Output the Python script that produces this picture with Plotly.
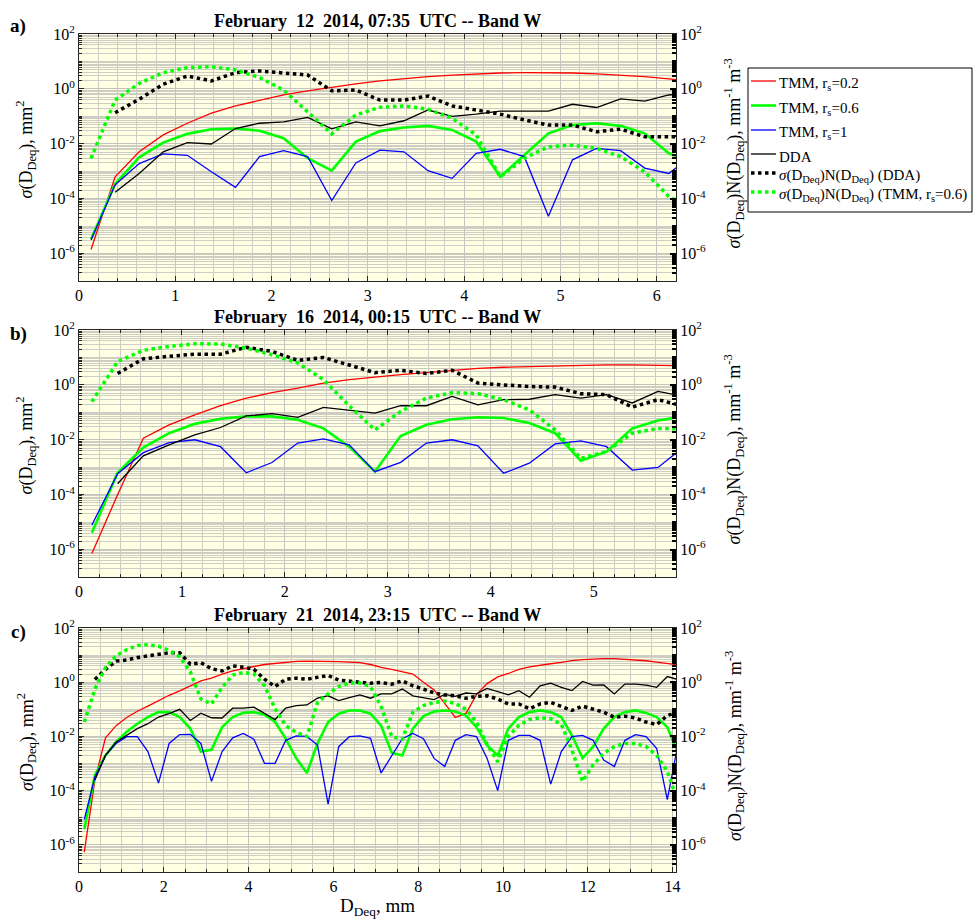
import plotly.graph_objects as go

FONT = "Liberation Serif, Times New Roman, Times, serif"

# ---------------- bin centres, mm ----------------
d_a = [0.125, 0.375, 0.625, 0.875, 1.125, 1.375, 1.625, 1.875, 2.125, 2.375, 2.625, 2.875, 3.125,
       3.375, 3.625, 3.875, 4.125, 4.375, 4.625, 4.875, 5.125, 5.375, 5.625, 5.875, 6.125, 6.375]
d_b = [0.125, 0.375, 0.625, 0.875, 1.125, 1.375, 1.625, 1.875, 2.125, 2.375, 2.625, 2.875,
       3.125, 3.375, 3.625, 3.875, 4.125, 4.375, 4.625, 4.875, 5.125, 5.375, 5.625, 5.875]
d_c = [0.125, 0.375, 0.625, 0.875, 1.125, 1.375, 1.625, 1.875, 2.125, 2.375, 2.625, 2.875, 3.125,
       3.375, 3.625, 3.875, 4.125, 4.375, 4.625, 4.875, 5.125, 5.375, 5.625, 5.875, 6.125, 6.375,
       6.625, 6.875, 7.125, 7.375, 7.625, 7.875, 8.125, 8.375, 8.625, 8.875, 9.125, 9.375, 9.625,
       9.875, 10.125, 10.375, 10.625, 10.875, 11.125, 11.375, 11.625, 11.875, 12.125, 12.375,
       12.625, 12.875, 13.125, 13.375, 13.625, 13.875, 14.125]

# ---------------- a) February 12 2014, 07:35 UTC ----------------
tmm02_a = [1.4e-6, 6.3e-4, 5.1e-3, 2.1e-2, 5.6e-2, 0.13, 0.24, 0.39, 0.60, 0.85, 1.15, 1.51, 1.95,
           2.4, 2.8, 3.2, 3.5, 3.8, 3.9, 3.9, 3.8, 3.5, 3.2, 2.8, 2.3, 1.9]
tmm06_a = [3.3e-6, 3.4e-4, 3.2e-3, 1.1e-2, 2.3e-2, 3.4e-2, 3.6e-2, 3.0e-2, 1.6e-2, 3.0e-3, 1.05e-3,
           1.2e-2, 2.9e-2, 3.9e-2, 4.5e-2, 3.2e-2, 1.2e-2, 6.3e-4, 3.9e-3, 2.4e-2, 4.8e-2, 5.6e-2,
           4.5e-2, 2.4e-2, 4.5e-3, 2.0e-3]
tmm1_a = [3.1e-6, 3.2e-4, 1.9e-3, 4.3e-3, 3.8e-3, 9.5e-4, 2.6e-4, 3.4e-3, 5.6e-3, 3.4e-3, 8.5e-5,
          2.0e-3, 5.9e-3, 5.1e-3, 1.05e-3, 5.5e-4, 4.5e-3, 6.3e-3, 3.4e-3, 2.3e-5, 2.6e-3, 6.8e-3,
          5.6e-3, 1.3e-3, 8.3e-4, 4.0e-3]
dda_a = [1.7e-4, 8.3e-4, 5.1e-3, 1.1e-2, 9.8e-3, 3.6e-2, 5.6e-2, 6.3e-2, 9.1e-2, 3.5e-2, 6.3e-2,
         4.5e-2, 6.9e-2, 0.17, 0.10, 0.12, 0.155, 0.155, 0.155, 0.275, 0.21, 0.43, 0.36, 0.60, 0.71]
sn_dda_a = [0.135, 0.42, 1.48, 2.95, 1.95, 3.9, 4.5, 3.7, 3.2, 0.85, 0.91, 0.39, 0.39, 0.55, 0.24,
            0.17, 0.12, 0.074, 0.048, 0.048, 0.0275, 0.034, 0.018, 0.018, 0.0186]
sn_tmm_a = [2.95e-3, 0.39, 1.58, 3.9, 5.9, 6.5, 4.9, 2.6, 0.91, 0.148, 0.023, 0.112, 0.214, 0.24,
            0.182, 0.085, 0.021, 6.3e-4, 2.95e-3, 7.8e-3, 8.9e-3, 6.8e-3, 3.4e-3, 9.5e-4, 1.2e-4,
            4.0e-5]

# ---------------- b) February 16 2014, 00:15 UTC ----------------
tmm02_b = [7.2e-7, 1.0e-4, 1.15e-2, 3.5e-2, 8.1e-2, 0.174, 0.33, 0.52, 0.76, 1.17, 1.55, 1.95,
           2.35, 2.8, 3.4, 4.0, 4.4, 4.7, 5.0, 5.2, 5.4, 5.4, 5.2, 5.0]
tmm06_b = [4.1e-6, 6.3e-4, 5.2e-3, 1.74e-2, 3.8e-2, 5.8e-2, 7.1e-2, 7.1e-2, 5.4e-2, 2.6e-2, 5.6e-3,
           6.9e-4, 1.38e-2, 3.5e-2, 5.6e-2, 6.6e-2, 6.2e-2, 4.1e-2, 1.74e-2, 1.74e-3, 3.7e-3,
           2.6e-2, 5.0e-2, 7.1e-2]
tmm1_b = [7.8e-6, 5.8e-4, 3.4e-3, 7.9e-3, 1.0e-2, 5.6e-3, 6.3e-4, 1.48e-3, 7.6e-3, 1.07e-2, 6.5e-3,
          6.9e-4, 1.5e-3, 7.6e-3, 1.0e-2, 6.0e-3, 6.0e-4, 1.4e-3, 7.1e-3, 9.1e-3, 5.6e-3, 7.9e-4,
          9.8e-4, 5.5e-3]
dda_b = [2.5e-4, 2.6e-3, 6.5e-3, 1.5e-2, 2.8e-2, 7.4e-2, 8.9e-2, 6.6e-2, 0.151, 0.117, 0.093,
         0.174, 0.174, 0.38, 0.186, 0.29, 0.30, 0.44, 0.33, 0.44, 0.22, 0.575, 0.38]
sn_dda_b = [2.6, 8.9, 11.0, 13.2, 13.2, 23.4, 16.6, 7.8, 10.0, 5.4, 2.8, 3.4, 2.6, 3.4, 1.17, 1.0,
            0.87, 0.83, 0.48, 0.44, 0.155, 0.29, 0.166]
sn_tmm_b = [0.245, 7.1, 18.2, 25.1, 31.6, 30.9, 21.9, 12.6, 6.3, 1.55, 0.174, 0.023, 0.107, 0.33,
            0.52, 0.48, 0.29, 0.123, 0.023, 2.1e-3, 3.7e-3, 1.74e-2, 2.6e-2, 2.45e-2]

# ---------------- c) February 21 2014, 23:15 UTC ----------------
tmm02_c = [5.4e-7, 2.5e-4, 8.9e-3, 2.5e-2, 5.0e-2, 8.5e-2, 0.132, 0.21, 0.33, 0.48, 0.71, 1.12,
           1.41, 2.0, 2.6, 3.2, 3.8, 4.5, 5.0, 5.5, 5.9, 6.0, 6.0, 5.9, 5.75, 5.5, 5.25, 4.5, 3.5,
           3.0, 2.5, 2.0, 1.0, 0.52, 0.166, 0.050, 0.071, 0.35, 0.89, 1.58, 2.1, 2.95, 3.7, 4.3,
           4.8, 5.4, 6.3, 6.8, 7.2, 7.4, 7.4, 7.1, 6.6, 6.2, 5.5, 5.0, 4.4]
tmm06_c = [3.8e-6, 3.8e-4, 2.0e-3, 6.3e-3, 1.48e-2, 2.95e-2, 5.2e-2, 7.9e-2, 7.9e-2, 5.2e-2,
           1.95e-2, 2.75e-3, 3.2e-3, 2.2e-2, 5.2e-2, 7.4e-2, 7.9e-2, 6.3e-2, 3.4e-2, 8.3e-3,
           1.55e-3, 4.5e-4, 5.5e-3, 3.4e-2, 6.9e-2, 9.1e-2, 9.1e-2, 6.9e-2, 2.5e-2, 2.5e-3,
           2.0e-3, 1.95e-2, 5.6e-2, 8.3e-2, 9.1e-2, 8.3e-2, 5.9e-2, 2.2e-2, 4.8e-3, 2.0e-3,
           1.95e-2, 5.2e-2, 7.9e-2, 9.1e-2, 7.9e-2, 5.2e-2, 1.1e-2, 1.6e-3, 4.2e-3, 1.95e-2,
           5.2e-2, 7.9e-2, 9.1e-2, 7.4e-2, 5.2e-2, 2.2e-2, 2.5e-3]
tmm1_c = [8.7e-6, 3.2e-4, 2.0e-3, 5.5e-3, 9.8e-3, 9.8e-3, 2.75e-3, 1.9e-4, 5.5e-3, 1.17e-2,
          1.2e-2, 5.5e-3, 2.2e-4, 2.75e-3, 8.9e-3, 1.29e-2, 7.9e-3, 1.02e-3, 1.02e-3, 7.2e-3,
          1.05e-2, 1.0e-2, 4.8e-3, 3.2e-5, 4.2e-3, 9.8e-3, 1.05e-2, 8.5e-3, 4.5e-4, 2.0e-3,
          8.3e-3, 1.29e-2, 8.3e-3, 1.55e-3, 7.8e-4, 7.2e-3, 1.17e-2, 9.8e-3, 1.55e-3, 1.0e-4,
          7.2e-3, 1.1e-2, 1.1e-2, 7.2e-3, 1.74e-4, 2.75e-3, 9.8e-3, 1.1e-2, 7.2e-3, 1.35e-3,
          7.8e-4, 7.2e-3, 1.17e-2, 9.8e-3, 3.6e-3, 4.7e-5, 5.0e-3]
dda_c = [2.5e-4, 2.0e-3, 6.3e-3, 1.1e-2, 1.95e-2, 2.95e-2, 5.2e-2, 6.9e-2, 0.1, 3.9e-2, 7.2e-2,
         4.9e-2, 4.8e-2, 0.11, 0.11, 0.12, 6.9e-2, 4.2e-2, 0.112, 0.138, 0.145, 0.257, 0.316, 0.21,
         0.27, 0.34, 0.257, 0.37, 0.37, 0.56, 0.316, 0.27, 0.23, 0.355, 0.30, 0.40, 0.37, 0.59,
         0.45, 0.34, 0.49, 0.28, 0.74, 0.93, 0.65, 0.49, 1.07, 0.78, 0.79, 0.37, 0.85, 0.85, 0.78,
         0.65, 1.62, 1.26]
sn_dda_c = [1.26, 3.0, 6.0, 6.6, 8.1, 9.1, 10.7, 12.3, 12.3, 4.6, 5.25, 3.16, 2.6, 4.0, 3.6, 3.0,
            1.29, 0.69, 1.29, 1.41, 1.29, 1.48, 1.78, 1.2, 1.12, 1.05, 0.91, 0.98, 0.85, 1.12,
            0.74, 0.56, 0.40, 0.34, 0.316, 0.257, 0.30, 0.316, 0.24, 0.158, 0.158, 0.105, 0.158,
            0.18, 0.132, 0.091, 0.132, 0.098, 0.078, 0.051, 0.056, 0.048, 0.034, 0.0275, 0.059,
            0.079]
sn_tmm_c = [0.034, 0.56, 3.5, 9.5, 15.8, 22.4, 24.0, 21.4, 15.1, 8.7, 2.4, 0.24, 0.158, 0.65, 1.82,
            2.3, 2.0, 0.74, 0.105, 0.025, 0.0141, 0.010, 0.18, 0.37, 0.69, 0.93, 0.93, 0.69, 0.126,
            0.010, 0.0079, 0.079, 0.138, 0.18, 0.20, 0.166, 0.10, 0.034, 0.005, 0.00117, 0.010,
            0.0257, 0.042, 0.049, 0.045, 0.028, 0.0032, 2.2e-4, 8.9e-4, 2.4e-3, 4.2e-3, 5.5e-3,
            5.5e-3, 4.2e-3, 2.0e-3, 5.1e-4, 4.0e-5]

titles = ["February\u00a0\u00a012\u00a0\u00a02014, 07:35\u00a0\u00a0UTC -- Band W",
          "February\u00a0\u00a016\u00a0\u00a02014, 00:15\u00a0\u00a0UTC -- Band W",
          "February\u00a0\u00a021\u00a0\u00a02014, 23:15\u00a0\u00a0UTC -- Band W"]
panel_tags = ["a)", "b)", "c)"]
x_max = [6.2, 5.8, 14.08]
x_major = [1, 1, 2]
x_minor = [0.2, 0.2, 0.5]

# labelled decades; the odd decades and the 2..9 subdivisions go on the minor grid
label_exp = [-6, -4, -2, 0, 2]
y_tickvals = [10.0 ** e for e in label_exp]
y_ticktext = ["10<sup>%d</sup>" % e for e in label_exp]
y_minor = [m * 10.0 ** e for e in range(-7, 2) for m in range(1, 10)
           if not (m == 1 and e in label_exp)]

W, H = 973, 924
X0, X1 = 79, 676
panel_px = [(34, 281), (330, 577), (628, 872)]

BG = "#FFFFE4"
GRID_MAJ = "#C4C4BC"
GRID_MIN = "#CDCDC4"
FRAME = "#262626"
TICK_FONT = 16

names = ["TMM, r<sub>s</sub>=0.2", "TMM, r<sub>s</sub>=0.6", "TMM, r<sub>s</sub>=1", "DDA",
         "<i>σ</i>(D<sub>Deq</sub>)N(D<sub>Deq</sub>) (DDA)",
         "<i>σ</i>(D<sub>Deq</sub>)N(D<sub>Deq</sub>) (TMM, r<sub>s</sub>=0.6)"]
styles = [("#FF0000", 1.3, "solid"), ("#00FF00", 2.6, "solid"), ("#0000FF", 1.3, "solid"),
          ("#000000", 1.3, "solid"), ("#000000", 3.5, "dot"), ("#00FF00", 3.5, "dot")]

panels = [
    (d_a, tmm02_a, tmm06_a, tmm1_a, dda_a, sn_dda_a, sn_tmm_a),
    (d_b, tmm02_b, tmm06_b, tmm1_b, dda_b, sn_dda_b, sn_tmm_b),
    (d_c, tmm02_c, tmm06_c, tmm1_c, dda_c, sn_dda_c, sn_tmm_c),
]

fig = go.Figure()
layout = dict(
    width=W, height=H, margin=dict(l=0, r=0, t=0, b=0, autoexpand=False),
    paper_bgcolor="white", plot_bgcolor=BG,
    font=dict(family=FONT, size=15, color="black"),
    showlegend=False,
)
annotations = []
shapes = []

for i, (d, r02, r06, r1, dda, sdda, stmm) in enumerate(panels):
    top, bot = panel_px[i]
    xa = "x" if i == 0 else "x%d" % (i + 1)
    yl = "y%d" % (2 * i + 1) if i > 0 else "y"
    yr = "y%d" % (2 * i + 2)
    xkey = "xaxis" if i == 0 else "xaxis%d" % (i + 1)
    ylkey = "yaxis" if i == 0 else "yaxis%d" % (2 * i + 1)
    yrkey = "yaxis%d" % (2 * i + 2)

    series = [(d, r02, yl), (d, r06, yl), (d, r1, yl), (d[1:], dda, yl),
              (d[1:], sdda, yr), (d, stmm, yr)]
    for k, (xs, ys, yax) in enumerate(series):
        col, w, dash = styles[k]
        fig.add_trace(go.Scatter(x=xs, y=ys, mode="lines", name=names[k],
                                 line=dict(color=col, width=w, dash=dash),
                                 xaxis=xa, yaxis=yax))

    ydom = [1 - bot / H, 1 - top / H]
    layout[xkey] = dict(
        domain=[X0 / W, X1 / W], anchor=yl, range=[0, x_max[i]],
        tickmode="linear", tick0=0, dtick=x_major[i],
        ticks="inside", ticklen=5, tickcolor=FRAME,
        showline=True, linecolor=FRAME, linewidth=1, mirror="ticks",
        showgrid=True, gridcolor=GRID_MAJ, gridwidth=1, zeroline=False,
        tickfont=dict(size=TICK_FONT), automargin=False,
        minor=dict(dtick=x_minor[i], tick0=0, ticks="inside", ticklen=3, tickcolor=FRAME,
                   showgrid=True, gridcolor=GRID_MIN, gridwidth=1),
    )
    if i == 2:
        layout[xkey]["title"] = dict(text="D<sub>Deq</sub>, mm", font=dict(size=19), standoff=4)
    layout[ylkey] = dict(
        domain=ydom, anchor=xa, type="log", range=[-7, 2],
        tickmode="array", tickvals=y_tickvals, ticktext=y_ticktext,
        ticks="inside", ticklen=5, tickcolor=FRAME,
        showline=True, linecolor=FRAME, linewidth=1,
        showgrid=True, gridcolor=GRID_MAJ, gridwidth=1, zeroline=False,
        tickfont=dict(size=TICK_FONT), automargin=False,
        minor=dict(tickmode="array", tickvals=y_minor, ticks="inside", ticklen=3,
                   tickcolor=FRAME, showgrid=True, gridcolor=GRID_MIN, gridwidth=1),
    )
    layout[yrkey] = dict(
        overlaying=yl, side="right", anchor=xa, type="log", range=[-7, 2],
        tickmode="array", tickvals=y_tickvals, ticktext=y_ticktext,
        ticks="inside", ticklen=6, tickwidth=1.5, tickcolor="black",
        showline=True, linecolor=FRAME, linewidth=1,
        showgrid=False, zeroline=False, tickfont=dict(size=TICK_FONT), automargin=False,
        minor=dict(tickmode="array", tickvals=y_minor, ticks="inside", ticklen=4,
                   tickwidth=2, tickcolor="black", showgrid=False),
    )

    mid = (top + bot) / 2
    tag_y = 26 if i == 0 else top + 4
    annotations += [
        dict(text="<b>%s</b>" % titles[i], x=(X0 + X1) / 2 / W, y=1 - (top - 13) / H,
             xref="paper", yref="paper", xanchor="center", yanchor="middle",
             showarrow=False, font=dict(size=18)),
        dict(text="<b>%s</b>" % panel_tags[i], x=18 / W, y=1 - tag_y / H,
             xref="paper", yref="paper", xanchor="center", yanchor="middle",
             showarrow=False, font=dict(size=19)),
        dict(text="<i>σ</i>(D<sub>Deq</sub>), mm<sup>2</sup>", x=26 / W, y=1 - (mid - 8) / H,
             xref="paper", yref="paper", xanchor="center", yanchor="middle",
             textangle=-90, showarrow=False, font=dict(size=18)),
        dict(text="<i>σ</i>(D<sub>Deq</sub>)N(D<sub>Deq</sub>), mm<sup>-1</sup> m<sup>-3</sup>",
             x=734 / W, y=1 - (mid - 4) / H,
             xref="paper", yref="paper", xanchor="center", yanchor="middle",
             textangle=-90, showarrow=False, font=dict(size=18)),
    ]

# key box to the right of panel a: framed box, line samples and entry labels
LX0, LX1, LY0, LY1 = 748, 972, 68, 212
key_rows = [81, 105.5, 130, 154, 173, 192]
shapes.append(dict(type="rect", xref="paper", yref="paper",
                   x0=LX0 / W, x1=LX1 / W, y0=1 - LY1 / H, y1=1 - LY0 / H,
                   line=dict(color="black", width=1), fillcolor="white", layer="above"))
for k, yy in enumerate(key_rows):
    col, w, dash = styles[k]
    shapes.append(dict(type="line", xref="paper", yref="paper",
                       x0=751 / W, x1=776 / W, y0=1 - yy / H, y1=1 - yy / H,
                       line=dict(color=col, width=w, dash=dash), layer="above"))
    annotations.append(dict(text=names[k], x=777 / W, y=1 - (yy + 3) / H,
                            xref="paper", yref="paper", xanchor="left", yanchor="middle",
                            showarrow=False, font=dict(size=15)))

layout["annotations"] = annotations
layout["shapes"] = shapes
fig.update_layout(**layout)
fig.write_html("out.html")
